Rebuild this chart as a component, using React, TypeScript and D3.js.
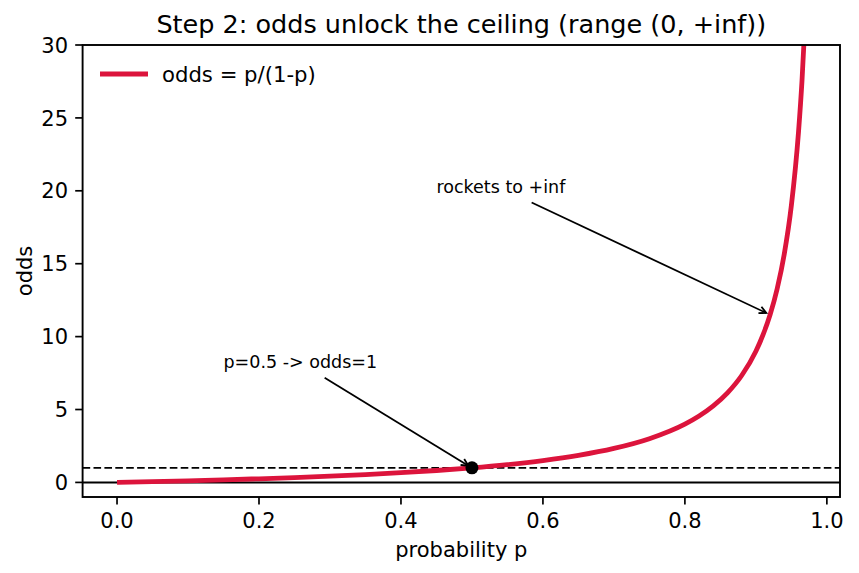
import React from "react";
import * as d3 from "d3";

const probs = [0, 0.05, 0.1, 0.15, 0.2, 0.25, 0.3, 0.35, 0.4, 0.45, 0.5, 0.55, 0.6, 0.65, 0.7, 0.75, 0.8, 0.82, 0.84, 0.86, 0.88, 0.9, 0.91, 0.92, 0.93, 0.94, 0.95, 0.96, 0.965, 0.97];
const oddsVals = [0, 0.0526, 0.1111, 0.1765, 0.25, 0.3333, 0.4286, 0.5385, 0.6667, 0.8182, 1, 1.2222, 1.5, 1.8571, 2.3333, 3, 4, 4.5556, 5.25, 6.1429, 7.3333, 9, 10.111, 11.5, 13.286, 15.667, 19, 24, 27.571, 32.333];
const xTicks = [0, 0.2, 0.4, 0.6, 0.8, 1.0];
const yTicks = [0, 5, 10, 15, 20, 25, 30];
const markerPoint = { p: 0.5, odds: 1 };
const annotations = [
  { text: "p=0.5 -> odds=1", tx: 0.15, ty: 8, ax: 0.5, ay: 1 },
  { text: "rockets to +inf", tx: 0.45, ty: 20, ax: 0.92, ay: 11.5 },
];
const titleText = "Step 2: odds unlock the ceiling (range (0, +inf))";
const legendLabel = "odds = p/(1-p)";

const W = 859, H = 573;
const L = 82.6, R = 840, T = 45, B = 497;
const FONT = "DejaVu Sans, sans-serif";
const CRIMSON = "#DC143C";

function measure(text: string, size: number) {
  if (typeof document === "undefined") return text.length * size * 0.55;
  const c = document.createElement("canvas");
  const ctx = c.getContext("2d")!;
  ctx.font = `${size}px "DejaVu Sans"`;
  return ctx.measureText(text).width;
}

export default function App() {
  const x = d3.scaleLinear().domain([-0.0485, 1.0185]).range([L, R]);
  const y = d3.scaleLinear().domain([-1, 30]).range([B, T]);
  const data = probs.map((p, i) => [p, oddsVals[i]] as [number, number]);
  const line = d3.line<[number, number]>().x(d => x(d[0])).y(d => y(d[1])).curve(d3.curveMonotoneX);

  const annFont = 17.5;
  const arrows = annotations.map(a => {
    const w = measure(a.text, annFont);
    const tx = x(a.tx), ty = y(a.ty) + 2;
    const top = ty - annFont * 0.76 - 4.2;
    const bot = ty + annFont * 0.21 + 4.2;
    const left = tx - 4.2, right = tx + w + 4.2;
    const cx = (left + right) / 2, cy = (top + bot) / 2;
    const ex = x(a.ax), ey = y(a.ay);
    const dx = ex - cx, dy = ey - cy;
    let t = Infinity;
    if (dx !== 0) t = Math.min(t, ((dx > 0 ? right : left) - cx) / dx);
    if (dy !== 0) t = Math.min(t, ((dy > 0 ? bot : top) - cy) / dy);
    const len = Math.hypot(dx, dy);
    const ux = dx / len, uy = dy / len;
    const sx = cx + dx * t + ux * 4.2, sy = cy + dy * t + uy * 4.2;
    const fx = ex - ux * 4.2, fy = ey - uy * 4.2;
    const hl = 7, hw = 3.5;
    const h1 = [fx - ux * hl - uy * hw, fy - uy * hl + ux * hw];
    const h2 = [fx - ux * hl + uy * hw, fy - uy * hl - ux * hw];
    return { a, tx, ty, sx, sy, fx, fy, h1, h2 };
  });

  return (
    <svg width={W} height={H} style={{ display: "block", position: "absolute", left: 0, top: 0 }} fontFamily={FONT}>
      <rect width={W} height={H} fill="#fff" />
      <defs>
        <clipPath id="plotclip">
          <rect x={L} y={T} width={R - L} height={B - T} />
        </clipPath>
      </defs>
      <text x={(L + R) / 2} y={33} textAnchor="middle" fontSize={25.5}>{titleText}</text>

      <g clipPath="url(#plotclip)">
        <line x1={L} x2={R} y1={y(0)} y2={y(0)} stroke="#000" strokeWidth={2} />
        <line x1={L} x2={R} y1={y(1)} y2={y(1)} stroke="#000" strokeWidth={1.8} strokeDasharray="7.6,3.3" />
        <path d={line(data) || ""} fill="none" stroke={CRIMSON} strokeWidth={4.8} strokeLinejoin="round" />
        <circle cx={x(markerPoint.p)} cy={y(markerPoint.odds)} r={6.5} fill="#000" />
      </g>

      {arrows.map((r, i) => (
        <g key={i}>
          <text x={r.tx} y={r.ty} fontSize={annFont}>{r.a.text}</text>
          <line x1={r.sx} y1={r.sy} x2={r.fx} y2={r.fy} stroke="#000" strokeWidth={1.8} />
          <polyline points={`${r.h1[0]},${r.h1[1]} ${r.fx},${r.fy} ${r.h2[0]},${r.h2[1]}`} fill="none" stroke="#000" strokeWidth={1.8} />
        </g>
      ))}

      <rect x={L} y={T} width={R - L} height={B - T} fill="none" stroke="#000" strokeWidth={1.9} />

      {xTicks.map(t => (
        <g key={"x" + t}>
          <line x1={x(t)} x2={x(t)} y1={B} y2={B + 7.4} stroke="#000" strokeWidth={1.7} />
          <text x={x(t)} y={B + 30.5} textAnchor="middle" fontSize={21}>{t.toFixed(1)}</text>
        </g>
      ))}
      {yTicks.map(t => (
        <g key={"y" + t}>
          <line x1={L - 7.4} x2={L} y1={y(t)} y2={y(t)} stroke="#000" strokeWidth={1.7} />
          <text x={L - 14.6} y={y(t) + 7.6} textAnchor="end" fontSize={21}>{t}</text>
        </g>
      ))}
      <text x={(L + R) / 2} y={557} textAnchor="middle" fontSize={21}>probability p</text>
      <text transform={`translate(32,${(T + B) / 2}) rotate(-90)`} textAnchor="middle" fontSize={21}>odds</text>

      <line x1={100} x2={148} y1={74} y2={74} stroke={CRIMSON} strokeWidth={4.8} />
      <text x={162} y={81.5} fontSize={21.2}>{legendLabel}</text>
    </svg>
  );
}
